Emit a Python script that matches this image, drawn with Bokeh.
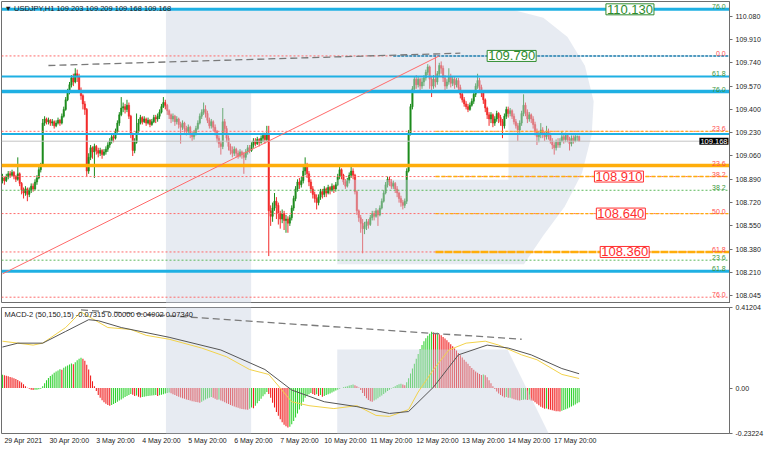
from bokeh.plotting import figure
from bokeh.layouts import column
from bokeh.models import ColumnDataSource, FixedTicker, PrintfTickFormatter, Label, Range1d
from bokeh.embed import file_html
from bokeh.resources import INLINE

FONT = "Liberation Sans"

# ---------------- data (USDJPY H1, bar index 0 = 29 Apr 2021 20:00) ----------------
FIRST_OPEN = 108.88
LAST_OPEN = 109.203

CLOSE = [
    108.90, 108.88, 108.91, 108.93, 108.92, 108.94, 108.91, 108.89, 108.93, 108.86,
    108.81, 108.79, 108.82, 108.78, 108.81, 108.84, 108.82, 108.87, 108.90, 108.96,
    108.99, 109.30, 109.33, 109.31, 109.32, 109.30, 109.31, 109.28, 109.30, 109.32,
    109.30, 109.35, 109.40, 109.47, 109.53, 109.58, 109.63, 109.60, 109.66, 109.64,
    109.54, 109.50, 109.44, 109.40, 108.95, 109.05, 109.12, 109.09, 109.13, 109.10,
    109.08, 109.10, 109.07, 109.09, 109.11, 109.14, 109.17, 109.20, 109.19, 109.24,
    109.30, 109.36, 109.41, 109.42, 109.40, 109.43, 109.35, 109.22, 109.10, 109.16,
    109.24, 109.30, 109.34, 109.31, 109.33, 109.30, 109.32, 109.29, 109.31, 109.34,
    109.33, 109.35, 109.38, 109.42, 109.45, 109.43, 109.39, 109.36, 109.33, 109.35,
    109.31, 109.33, 109.29, 109.27, 109.30, 109.26, 109.24, 109.27, 109.22, 109.20,
    109.23, 109.26, 109.30, 109.35, 109.38, 109.40, 109.37, 109.32, 109.28, 109.31,
    109.27, 109.24, 109.19, 109.15, 109.13, 109.31, 109.26, 109.19, 109.13, 109.10,
    109.08, 109.11, 109.08, 109.06, 109.09, 109.07, 109.05, 109.09, 109.12, 109.10,
    109.14, 109.17, 109.15, 109.18, 109.16, 109.19, 109.21, 109.18, 109.22, 108.66,
    108.62, 108.68, 108.73, 108.70, 108.64, 108.60, 108.64, 108.59, 108.60, 108.57,
    108.61, 108.68, 108.75, 108.82, 108.87, 108.85, 108.88, 108.95, 108.99, 108.93,
    108.87, 108.82, 108.78, 108.75, 108.72, 108.76, 108.80, 108.78, 108.82, 108.79,
    108.83, 108.81, 108.84, 108.82, 108.85, 108.91, 108.96, 108.92, 108.87, 108.84,
    108.88, 108.92, 108.95, 108.92, 108.80, 108.66, 108.61, 108.57, 108.53, 108.55,
    108.58, 108.56, 108.61, 108.64, 108.62, 108.66, 108.63, 108.68, 108.73, 108.79,
    108.85, 108.89, 108.87, 108.84, 108.86, 108.82, 108.79, 108.75, 108.72, 108.70,
    108.73, 108.95, 109.23, 109.42, 109.55, 109.62, 109.58, 109.62, 109.57, 109.60,
    109.63, 109.67, 109.71, 109.62, 109.57, 109.62, 109.60, 109.66, 109.72, 109.70,
    109.63, 109.57, 109.60, 109.64, 109.59, 109.62, 109.58, 109.61, 109.56, 109.51,
    109.47, 109.44, 109.42, 109.40, 109.43, 109.46, 109.51, 109.57, 109.61, 109.56,
    109.52, 109.47, 109.41, 109.36, 109.33, 109.36, 109.30, 109.33, 109.37, 109.34,
    109.31, 109.28, 109.35, 109.40, 109.37, 109.39, 109.35, 109.31, 109.28, 109.25,
    109.30, 109.37, 109.43, 109.38, 109.33, 109.36, 109.33, 109.29, 109.24, 109.20,
    109.22, 109.25, 109.22, 109.20, 109.24, 109.21, 109.17, 109.14, 109.12, 109.16,
    109.14, 109.17, 109.20, 109.18, 109.21, 109.18, 109.15, 109.19, 109.17, 109.20,
    109.20, 109.168,
]

HIGH = [
    108.93, 108.91, 108.93, 108.95, 108.95, 108.96, 108.95, 108.92, 109.05, 108.94,
    108.87, 108.83, 108.84, 108.83, 108.83, 108.86, 108.86, 108.89, 108.92, 108.98,
    109.01, 109.33, 109.35, 109.34, 109.34, 109.33, 109.33, 109.32, 109.32, 109.34,
    109.33, 109.37, 109.42, 109.49, 109.55, 109.60, 109.65, 109.66, 109.70, 109.69,
    109.66, 109.56, 109.51, 109.46, 109.41, 109.08, 109.14, 109.13, 109.15, 109.14,
    109.12, 109.12, 109.11, 109.11, 109.13, 109.16, 109.19, 109.22, 109.22, 109.26,
    109.32, 109.38, 109.49, 109.45, 109.44, 109.47, 109.45, 109.36, 109.23, 109.19,
    109.37, 109.33, 109.36, 109.35, 109.35, 109.34, 109.34, 109.33, 109.33, 109.36,
    109.36, 109.37, 109.40, 109.44, 109.49, 109.47, 109.44, 109.40, 109.37, 109.37,
    109.36, 109.35, 109.34, 109.31, 109.32, 109.31, 109.28, 109.29, 109.28, 109.24,
    109.25, 109.28, 109.32, 109.37, 109.40, 109.45, 109.43, 109.39, 109.34, 109.33,
    109.32, 109.29, 109.25, 109.21, 109.17, 109.41, 109.33, 109.28, 109.21, 109.15,
    109.13, 109.13, 109.12, 109.10, 109.11, 109.10, 109.09, 109.11, 109.14, 109.14,
    109.16, 109.19, 109.19, 109.20, 109.19, 109.21, 109.23, 109.23, 109.28, 109.28,
    108.70, 108.72, 108.79, 108.76, 108.72, 108.66, 108.67, 108.66, 108.63, 108.62,
    108.63, 108.70, 108.77, 108.84, 108.89, 108.90, 108.91, 108.98, 109.05, 109.01,
    108.95, 108.89, 108.84, 108.80, 108.78, 108.78, 108.82, 108.82, 108.84, 108.83,
    108.85, 108.84, 108.86, 108.85, 108.87, 108.93, 108.98, 108.97, 108.93, 108.89,
    108.90, 108.94, 108.98, 108.97, 108.93, 108.81, 108.67, 108.63, 108.60, 108.58,
    108.60, 108.60, 108.63, 108.66, 108.66, 108.68, 108.67, 108.70, 108.75, 108.81,
    108.87, 108.91, 108.91, 108.89, 108.88, 108.87, 108.84, 108.80, 108.77, 108.74,
    108.75, 108.97, 109.25, 109.44, 109.57, 109.64, 109.65, 109.64, 109.63, 109.63,
    109.65, 109.69, 109.73, 109.72, 109.64, 109.65, 109.80, 109.68, 109.74, 109.75,
    109.72, 109.65, 109.62, 109.70, 109.66, 109.64, 109.64, 109.63, 109.63, 109.58,
    109.53, 109.49, 109.46, 109.44, 109.45, 109.48, 109.53, 109.59, 109.66, 109.63,
    109.58, 109.53, 109.48, 109.42, 109.38, 109.38, 109.37, 109.35, 109.39, 109.38,
    109.36, 109.33, 109.37, 109.42, 109.42, 109.41, 109.40, 109.37, 109.33, 109.30,
    109.32, 109.39, 109.51, 109.45, 109.40, 109.38, 109.37, 109.35, 109.31, 109.26,
    109.24, 109.30, 109.27, 109.24, 109.28, 109.26, 109.23, 109.19, 109.16, 109.18,
    109.19, 109.19, 109.24, 109.22, 109.23, 109.22, 109.20, 109.21, 109.21, 109.22,
    109.21, 109.209,
]

LOW = [
    108.86, 108.85, 108.87, 108.89, 108.90, 108.91, 108.89, 108.87, 108.88, 108.84,
    108.78, 108.75, 108.77, 108.73, 108.76, 108.79, 108.80, 108.81, 108.85, 108.89,
    108.94, 108.98, 109.28, 109.29, 109.29, 109.28, 109.28, 109.26, 109.27, 109.29,
    109.28, 109.29, 109.34, 109.39, 109.46, 109.51, 109.56, 109.57, 109.59, 109.60,
    109.52, 109.47, 109.40, 109.36, 108.91, 108.93, 109.03, 109.04, 108.90, 109.07,
    109.05, 109.06, 109.04, 109.06, 109.07, 109.09, 109.12, 109.15, 109.16, 109.18,
    109.23, 109.28, 109.35, 109.38, 109.37, 109.38, 109.33, 109.19, 109.06, 109.08,
    109.15, 109.23, 109.29, 109.29, 109.30, 109.28, 109.29, 109.27, 109.28, 109.30,
    109.30, 109.31, 109.33, 109.37, 109.41, 109.40, 109.36, 109.33, 109.30, 109.31,
    109.28, 109.29, 109.26, 109.15, 109.25, 109.23, 109.21, 109.22, 109.19, 109.17,
    109.18, 109.21, 109.25, 109.29, 109.33, 109.36, 109.34, 109.30, 109.26, 109.26,
    109.24, 109.21, 109.16, 109.12, 109.07, 109.11, 109.23, 109.16, 109.10, 109.07,
    109.05, 109.06, 109.05, 109.04, 109.05, 109.04, 108.93, 109.03, 109.07, 109.08,
    109.09, 109.12, 109.13, 109.14, 109.13, 109.15, 109.16, 109.15, 109.17, 108.33,
    108.55, 108.58, 108.66, 108.60, 108.56, 108.53, 108.57, 108.52, 108.50, 108.50,
    108.55, 108.59, 108.66, 108.73, 108.80, 108.82, 108.83, 108.86, 108.92, 108.90,
    108.84, 108.79, 108.75, 108.72, 108.67, 108.70, 108.74, 108.75, 108.76, 108.76,
    108.78, 108.78, 108.80, 108.79, 108.80, 108.84, 108.89, 108.89, 108.85, 108.82,
    108.83, 108.86, 108.90, 108.89, 108.78, 108.63, 108.58, 108.50, 108.35, 108.49,
    108.52, 108.53, 108.55, 108.59, 108.59, 108.61, 108.55, 108.62, 108.67, 108.72,
    108.78, 108.83, 108.84, 108.82, 108.82, 108.79, 108.76, 108.72, 108.69, 108.67,
    108.68, 108.71, 108.94, 109.21, 109.40, 109.53, 109.55, 109.56, 109.54, 109.55,
    109.57, 109.61, 109.65, 109.55, 109.49, 109.55, 109.56, 109.58, 109.64, 109.66,
    109.60, 109.54, 109.55, 109.58, 109.56, 109.57, 109.55, 109.56, 109.53, 109.48,
    109.45, 109.42, 109.40, 109.38, 109.39, 109.42, 109.44, 109.49, 109.55, 109.53,
    109.49, 109.44, 109.38, 109.33, 109.28, 109.30, 109.27, 109.28, 109.31, 109.30,
    109.28, 109.19, 109.26, 109.33, 109.34, 109.35, 109.33, 109.29, 109.26, 109.17,
    109.23, 109.28, 109.35, 109.35, 109.30, 109.31, 109.30, 109.26, 109.21, 109.14,
    109.16, 109.19, 109.19, 109.17, 109.18, 109.18, 109.15, 109.11, 109.07, 109.10,
    109.12, 109.12, 109.16, 109.15, 109.16, 109.16, 109.10, 109.13, 109.15, 109.16,
    109.17, 109.168,
]

# MACD-2 (50,150,15) histogram per bar
HIST = [
    0.068, 0.066, 0.063, 0.060, 0.057, 0.054, 0.050, 0.046, 0.041, 0.035,
    0.028, 0.020, 0.010, 0.002, -0.004, -0.008, -0.010, -0.009, -0.008, -0.006,
    -0.003, 0.010, 0.025, 0.040, 0.052, 0.062, 0.070, 0.078, 0.085, 0.090,
    0.097, 0.094, 0.104, 0.110, 0.116, 0.121, 0.126, 0.122, 0.132, 0.142,
    0.150, 0.155, 0.150, 0.140, 0.120, 0.095, 0.065, 0.035, 0.010, -0.015,
    -0.035, -0.050, -0.062, -0.072, -0.080, -0.086, -0.090, -0.087, -0.082, -0.076,
    -0.070, -0.064, -0.058, -0.052, -0.046, -0.040, -0.035, -0.030, -0.034, -0.040,
    -0.038, -0.044, -0.048, -0.046, -0.044, -0.042, -0.041, -0.039, -0.038, -0.037,
    -0.036, -0.040, -0.037, -0.034, -0.031, -0.028, -0.025, -0.023, -0.027, -0.032,
    -0.036, -0.040, -0.044, -0.048, -0.052, -0.055, -0.058, -0.061, -0.064, -0.067,
    -0.069, -0.071, -0.073, -0.075, -0.070, -0.064, -0.058, -0.053, -0.049, -0.046,
    -0.050, -0.055, -0.060, -0.058, -0.064, -0.068, -0.072, -0.078, -0.082, -0.086,
    -0.090, -0.094, -0.098, -0.101, -0.104, -0.107, -0.109, -0.110, -0.111, -0.106,
    -0.100, -0.103, -0.090, -0.078, -0.066, -0.054, -0.042, -0.031, -0.020, -0.030,
    -0.050, -0.075, -0.100, -0.122, -0.142, -0.160, -0.175, -0.188, -0.196, -0.202,
    -0.198, -0.185, -0.168, -0.150, -0.130, -0.110, -0.090, -0.070, -0.050, -0.040,
    -0.032, -0.025, -0.030, -0.036, -0.032, -0.040, -0.035, -0.045, -0.040, -0.036,
    -0.032, -0.028, -0.023, -0.018, -0.013, -0.008, -0.004, 0.001, 0.004, 0.007,
    0.010, 0.013, 0.016, 0.018, 0.015, 0.010, 0.003, -0.010, -0.025, -0.040,
    -0.052, -0.061, -0.067, -0.070, -0.064, -0.058, -0.052, -0.045, -0.038, -0.030,
    -0.022, -0.015, -0.008, -0.002, 0.004, 0.010, 0.016, 0.020, 0.022, 0.018,
    0.015, 0.030, 0.050, 0.075, 0.100, 0.125, 0.150, 0.175, 0.200, 0.220,
    0.240, 0.255, 0.268, 0.278, 0.288, 0.284, 0.280, 0.283, 0.276, 0.270,
    0.262, 0.254, 0.245, 0.235, 0.225, 0.214, 0.203, 0.192, 0.180, 0.168,
    0.156, 0.145, 0.135, 0.124, 0.113, 0.103, 0.094, 0.085, 0.078, 0.072,
    0.067, 0.070, 0.066, 0.055, 0.040, 0.025, 0.010, -0.005, -0.018, -0.028,
    -0.036, -0.042, -0.048, -0.046, -0.050, -0.049, -0.053, -0.057, -0.060, -0.062,
    -0.064, -0.061, -0.060, -0.058, -0.061, -0.059, -0.063, -0.065, -0.072, -0.080,
    -0.088, -0.095, -0.101, -0.106, -0.104, -0.108, -0.111, -0.114, -0.116, -0.118,
    -0.119, -0.120, -0.116, -0.112, -0.108, -0.104, -0.099, -0.094, -0.089, -0.084,
    -0.078, -0.073,
]

MACD_MAIN_X = [0, 8, 21, 33, 45, 50, 62, 87, 114, 137, 151, 168, 185, 202, 212, 225, 238, 253, 264, 276, 292, 301]
MACD_MAIN_Y = [0.21, 0.23, 0.23, 0.29, 0.35, 0.345, 0.31, 0.26, 0.195, 0.095, -0.01, -0.07, -0.095, -0.13,
               -0.12, 0.005, 0.17, 0.22, 0.205, 0.17, 0.10, 0.0734]
MACD_SIG_X = [0, 16, 21, 33, 41, 47, 55, 67, 75, 87, 104, 117, 129, 139, 151, 160, 173, 185, 195, 202,
              212, 217, 225, 233, 242, 252, 259, 271, 279, 292, 301]
MACD_SIG_Y = [0.24, 0.22, 0.23, 0.31, 0.39, 0.355, 0.31, 0.30, 0.27, 0.25, 0.205, 0.16, 0.095, 0.07, -0.07,
              -0.09, -0.105, -0.09, -0.14, -0.145, -0.11, -0.02, 0.095, 0.195, 0.23, 0.24, 0.22, 0.17,
              0.145, 0.07, 0.049]

DATE_BARS = [0, 24, 48, 72, 96, 120, 144, 168, 192, 216, 240, 264, 288]
DATE_LABELS = ["29 Apr 2021", "30 Apr 20:00", "3 May 20:00", "4 May 20:00", "5 May 20:00", "6 May 20:00",
               "7 May 20:00", "10 May 20:00", "11 May 20:00", "12 May 20:00", "13 May 20:00",
               "14 May 20:00", "17 May 20:00"]

PRICE_TICKS = [110.080, 109.910, 109.740, 109.570, 109.400, 109.230, 109.060, 108.890, 108.720,
               108.550, 108.380, 108.210, 108.045]
MACD_TICKS = [0.41204, 0, -0.23224]
MACD_TICK_LABELS = ["0.41204", "0.00", "-0.23224"]

# drawn objects (levels)
RED_FIB_LEVELS = [109.79, 109.24, 108.91, 108.64, 108.36, 108.03]
GREEN_FIB_LEVELS = [108.81, 108.30]
CYAN_LEVELS = [110.13, 109.64, 109.53, 109.22, 108.22]
CYAN_PARTIAL_LEVEL = 109.79
CYAN_PARTIAL_START = 204
ORANGE_FULL_LEVEL = 108.99
ORANGE_PARTIAL_LEVELS = [109.24, 108.91, 108.64, 108.36]
ORANGE_PARTIAL_START = 226
LAST_PRICE = 109.168

FIB_TAG_TEXT = ["76.0", "0.0", "61.8", "76.0", "23.6", "23.6", "38.2", "38.2", "50.0", "61.8", "23.6", "61.8", "76.0"]
FIB_TAG_Y = [110.13, 109.79, 109.64, 109.53, 109.24, 108.99, 108.91, 108.81, 108.64, 108.36, 108.30, 108.22, 108.03]
FIB_TAG_KIND = ["g", "r", "g", "g", "r", "r", "r", "g", "r", "r", "g", "g", "r"]

BOX_TEXT = ["110.130", "109.790", "108.910", "108.640", "108.360"]
BOX_Y = [110.13, 109.79, 108.91, 108.64, 108.36]
BOX_BAR = [315, 253, 309, 310, 312]
BOX_KIND = ["g", "g", "r", "r", "r"]

TREND_PRICE = ([24, 239], [109.72, 109.81])
FIB_DIAG = ([0, 228], [108.20, 109.79])
TREND_MACD = ([41, 271], [0.40, 0.25])

# ---------------- geometry helpers ----------------
N = len(CLOSE)
assert len(HIGH) == N and len(LOW) == N and len(HIST) == N, (len(CLOSE), len(HIGH), len(LOW), len(HIST))
XR = Range1d(-0.5, 379.5)
PRICE_LO, PRICE_HI = 107.984, 110.187
MACD_LO, MACD_HI = -0.2325, 0.4125
FW = 728


def px_x(x):
    return (x - 1) / 1.98


def px_price(y):
    return 110.194 - y / 143.0


def px_macd(y):
    return (402.5 - y) / 200.0


WM_PRICE = [
    [(170, 10), (258, 10), (258, 318), (170, 318)],
    [(258, 10), (530, 10), (560, 18), (585, 38), (603, 68), (612, 105), (610, 140), (600, 180), (582, 215),
     (560, 245), (540, 275), (347, 275), (347, 187), (524, 187), (524, 95), (258, 95)],
]
WM_MACD = [
    [(170, 316), (258, 316), (258, 452), (170, 452)],
    [(347, 363), (523, 363), (567, 452), (347, 452)],
]
WM_FILL = "#c9d3e3"
WM_ALPHA = 0.45

GREEN = "#1e8c1e"
RED = "#f22a2a"
HGREEN = "#2fd12f"
HRED = "#f01a1a"
TAG_GREEN = "#3a963a"
TAG_RED = "#ff4d4d"
CYAN = "#1fb0e3"
ORANGE = "#ffad0a"


def style(p):
    p.xgrid.visible = False
    p.ygrid.visible = False
    p.outline_line_color = "#6e6e6e"
    p.outline_line_width = 1
    p.background_fill_color = "white"
    p.border_fill_color = "white"
    for ax in p.yaxis:
        ax.major_label_text_font = FONT
        ax.major_label_text_font_size = "7px"
        ax.major_label_text_color = "#222222"
        ax.major_tick_out = 3
        ax.major_tick_in = 0
        ax.minor_tick_line_color = None
        ax.axis_line_color = "#6e6e6e"
        ax.major_tick_line_color = "#6e6e6e"
        ax.major_label_standoff = 3


# ---------------- price panel ----------------
opens = [FIRST_OPEN] + CLOSE[:-1]
opens[-1] = LAST_OPEN
hi = [max(h, o, c) for h, o, c in zip(HIGH, opens, CLOSE)]
lo = [min(l, o, c) for l, o, c in zip(LOW, opens, CLOSE)]
cols = [GREEN if c >= o else RED for o, c in zip(opens, CLOSE)]
src = ColumnDataSource(dict(
    x=list(range(N)), h=hi, l=lo,
    top=[max(o, c) for o, c in zip(opens, CLOSE)],
    bot=[min(o, c) for o, c in zip(opens, CLOSE)],
    color=cols,
))

p1 = figure(frame_width=FW, frame_height=302, x_range=XR, y_range=Range1d(PRICE_LO, PRICE_HI),
            x_axis_location=None, y_axis_location="right", output_backend="svg", toolbar_location=None,
            min_border_left=1, min_border_right=0, min_border_top=1, min_border_bottom=0)
style(p1)
p1.yaxis.ticker = FixedTicker(ticks=PRICE_TICKS)
p1.yaxis.formatter = PrintfTickFormatter(format="%.3f")

p1.segment(x0="x", y0="l", x1="x", y1="h", line_color="color", line_width=1, source=src)
p1.vbar(x="x", width=0.75, top="top", bottom="bot", fill_color="color", line_color="color",
        line_width=0.5, source=src)

p1.patches([[px_x(a) for a, b in poly] for poly in WM_PRICE],
           [[px_price(b) for a, b in poly] for poly in WM_PRICE],
           fill_color=WM_FILL, fill_alpha=WM_ALPHA, line_color=None)

x0 = XR.start
x1 = XR.end
# full width dotted fib levels
p1.segment(x0=[x0] * len(RED_FIB_LEVELS), x1=[x1] * len(RED_FIB_LEVELS), y0=RED_FIB_LEVELS,
           y1=RED_FIB_LEVELS, line_color="#ff6a6a", line_width=1, line_dash="2 2")
p1.segment(x0=[x0] * len(GREEN_FIB_LEVELS), x1=[x1] * len(GREEN_FIB_LEVELS), y0=GREEN_FIB_LEVELS,
           y1=GREEN_FIB_LEVELS, line_color="#5cb85c", line_width=1, line_dash="2 2")
# current price
p1.segment(x0=[x0], x1=[x1], y0=[LAST_PRICE], y1=[LAST_PRICE], line_color="#c4c4c4", line_width=1)
# orange levels
p1.segment(x0=[x0], x1=[x1], y0=[ORANGE_FULL_LEVEL], y1=[ORANGE_FULL_LEVEL], line_color=ORANGE,
           line_width=3.5)
for lvl, w, d in zip(ORANGE_PARTIAL_LEVELS, [1, 1.5, 1.2, 2.5], ["3 2", "4 2", "3 2", "8 1"]):
    p1.segment(x0=[ORANGE_PARTIAL_START], x1=[x1], y0=[lvl], y1=[lvl], line_color=ORANGE,
               line_width=w, line_dash=d)
# cyan levels
for lvl, w in zip(CYAN_LEVELS, [3, 2, 3.5, 2, 3]):
    p1.segment(x0=[x0], x1=[x1], y0=[lvl], y1=[lvl], line_color=CYAN, line_width=w)
p1.segment(x0=[CYAN_PARTIAL_START], x1=[x1], y0=[CYAN_PARTIAL_LEVEL], y1=[CYAN_PARTIAL_LEVEL],
           line_color="#1a8fc0", line_width=1.5, line_dash="3 1")
# trend lines
p1.line(FIB_DIAG[0], FIB_DIAG[1], line_color="#ff6a6a", line_width=1)
p1.line(TREND_PRICE[0], TREND_PRICE[1], line_color="#7a7a7a", line_width=1.3, line_dash="7 4")

# level tags at the right edge
tag_src = ColumnDataSource(dict(
    x=[x1 - 2] * len(FIB_TAG_TEXT), y=FIB_TAG_Y, t=FIB_TAG_TEXT,
    c=[TAG_GREEN if k == "g" else TAG_RED for k in FIB_TAG_KIND],
))
p1.text(x="x", y="y", text="t", text_color="c", source=tag_src, text_align="right",
        text_baseline="bottom", text_font_size="7px", text_font={"value": FONT})

for t, y, b, k in zip(BOX_TEXT, BOX_Y, BOX_BAR, BOX_KIND):
    c = "#2e8b2e" if k == "g" else "#ff2e2e"
    p1.add_layout(Label(x=b, y=y, text=t, text_color=c, text_font=FONT, text_font_size="13px",
                        text_align="left", text_baseline="middle", background_fill_color="white",
                        border_line_color=c, border_line_width=1, padding=1))

p1.add_layout(Label(x=x0, y=PRICE_HI, x_offset=3, y_offset=-2, text="▼ USDJPY,H1  109.203 109.209 109.168 109.168",
                    text_font=FONT, text_font_size="7.5px", text_color="#1a1a1a", text_baseline="top"))
# current price box (placed at the right edge of the frame)
p1.add_layout(Label(x=x1, y=LAST_PRICE, x_offset=-1, text="109.168", text_font=FONT, text_font_size="7.5px",
                    text_color="white", background_fill_color="black", text_baseline="middle",
                    text_align="right", padding=1))

# ---------------- MACD panel ----------------
hcols = [HGREEN] + [HGREEN if HIST[i] >= HIST[i - 1] else HRED for i in range(1, N)]
p2 = figure(frame_width=FW, frame_height=126, x_range=XR, y_range=Range1d(MACD_LO, MACD_HI),
            y_axis_location="right", output_backend="svg", toolbar_location=None,
            min_border_left=1, min_border_right=0, min_border_top=4, min_border_bottom=0)
style(p2)
p2.yaxis.ticker = FixedTicker(ticks=MACD_TICKS)
p2.yaxis.major_label_overrides = dict(zip(MACD_TICKS, MACD_TICK_LABELS))

p2.vbar(x=list(range(N)), width=0.55, top=HIST, bottom=0, fill_color=hcols, line_color=None)
p2.patches([[px_x(a) for a, b in poly] for poly in WM_MACD],
           [[px_macd(b) for a, b in poly] for poly in WM_MACD],
           fill_color=WM_FILL, fill_alpha=WM_ALPHA, line_color=None)
p2.line(MACD_SIG_X, MACD_SIG_Y, line_color="#f2d24a", line_width=1)
p2.line(MACD_MAIN_X, MACD_MAIN_Y, line_color="#555555", line_width=1)
p2.line(TREND_MACD[0], TREND_MACD[1], line_color="#7a7a7a", line_width=1.3, line_dash="7 4")
p2.add_layout(Label(x=x0, y=MACD_HI, x_offset=3, y_offset=-2,
                    text="MACD-2 (50,150,15) -0.07315 0.00000 0.04902 0.07340",
                    text_font=FONT, text_font_size="7.5px", text_color="#1a1a1a", text_baseline="top"))

LABEL_SHIFT = 11
xt = [b + LABEL_SHIFT for b in DATE_BARS]
p2.xaxis.ticker = FixedTicker(ticks=xt)
p2.xaxis.major_label_overrides = dict(zip(xt, DATE_LABELS))
p2.xaxis.major_label_text_font = FONT
p2.xaxis.major_label_text_font_size = "7px"
p2.xaxis.major_label_text_color = "#222222"
p2.xaxis.major_tick_out = 0
p2.xaxis.major_tick_in = 0
p2.xaxis.minor_tick_line_color = None
p2.xaxis.axis_line_color = None
p2.xaxis.major_label_standoff = 3

layout = column(p1, p2, spacing=0)
open("out.html", "w").write(file_html(layout, INLINE))
